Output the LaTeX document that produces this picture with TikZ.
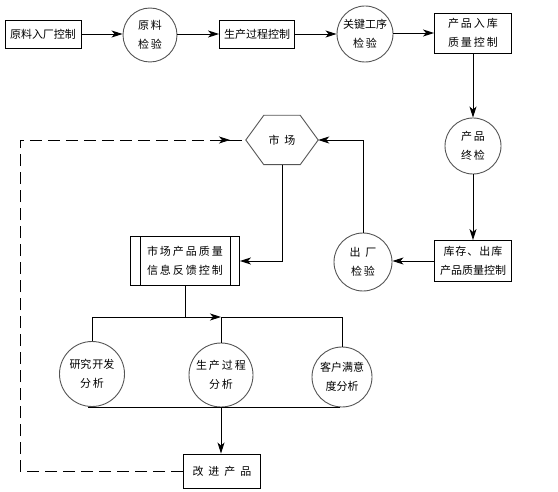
\documentclass[tikz,border=0pt]{standalone}
\usepackage{fontspec}
\newfontfamily\cjk{Noto Sans CJK SC}
\usetikzlibrary{arrows.meta,calc}
\definecolor{shapegray}{RGB}{85,85,85}
\newcommand{\sk}{\kern2pt}
\newcommand{\wk}{\kern5pt}
\begin{document}
\begin{tikzpicture}[x=1pt,y=-1pt,
  every node/.style={font=\cjk\fontsize{11}{19}\selectfont, align=center, inner sep=0pt},
  pbox/.style={draw=black, line width=0.9pt, rectangle},
  pcirc/.style={draw=shapegray, line width=0.9pt, circle},
  conn/.style={line width=0.9pt, draw=black},
  arr/.style={conn, -{Stealth[length=11pt,width=7pt,inset=3pt]}},
  dconn/.style={conn, dash pattern=on 12pt off 6pt}]
\useasboundingbox (0,0) rectangle (558,492);
% top row
\node[pbox, minimum width=76pt, minimum height=28pt] (b1) at (43,34) {原料入厂控制};
\node[pcirc, minimum size=54pt] (c1) at (150,35) {原\sk 料\\检\sk 验};
\node[pbox, minimum width=75pt, minimum height=28pt] (b2) at (257,34) {生产过程控制};
\node[pcirc, minimum size=56pt] (c2) at (365,34) {关键工序\\检\sk 验};
\node[pbox, minimum width=77pt, minimum height=40pt] (b3) at (473,33) {产\sk 品\sk 入\sk 库\\质\sk 量\sk 控\sk 制};
% right column
\node[pcirc, minimum size=56pt] (c3) at (473,146) {产\sk 品\\终\sk 检};
\node[pbox, minimum width=77pt, minimum height=41pt] (b4) at (473,261) {库\kern1pt 存\kern1pt 、\kern1pt 出\kern1pt 库\\产品质量控制};
\node[pcirc, minimum size=58pt] (c4) at (363,262) {出\wk 厂\\检\sk 验};
% market hexagon
\node[minimum width=72pt, minimum height=49pt] (hex) at (282,140) {市\wk 场};
\draw[shapegray, line width=0.9pt] (hex.west) -- ($(hex.north west)+(18,0)$) -- ($(hex.north east)+(-18,0)$) -- (hex.east) -- ($(hex.south east)+(-18,0)$) -- ($(hex.south west)+(18,0)$) -- cycle;
% feedback box (predefined process)
\node[pbox, minimum width=109pt, minimum height=49pt] (b5) at (185,261) {市\sk 场\sk 产\sk 品\sk 质\sk 量\\信\sk 息\sk 反\sk 馈\sk 控\sk 制};
\draw[conn] ($(b5.north west)+(10,0)$) -- ($(b5.south west)+(10,0)$);
\draw[conn] ($(b5.north east)+(-10,0)$) -- ($(b5.south east)+(-10,0)$);
% analysis circles
\node[pcirc, minimum size=65pt] (c5) at (92,374) {研究\kern1pt 开发\\分\sk 析};
\node[pcirc, minimum size=64pt] (c6) at (221,375) {生\sk 产\sk 过\sk 程\\分\sk 析};
\node[pcirc, minimum size=60pt] (c7) at (342,377) {客户满意\\度分析};
% improve box
\node[pbox, minimum width=77pt, minimum height=34pt] (b6) at (222,471) {改\wk 进\wk 产\wk 品};
% connectors top row
\draw[arr] (b1.east) -- (b1.east -| c1.west);
\draw[arr] (c1.east |- b2.west) -- (b2.west);
\draw[arr] (b2.east) -- (b2.east -| c2.west);
\draw[arr] (c2.east |- b3.west) -- (b3.west);
\draw[arr] (b3.south) -- (c3.north);
\draw[arr] (c3.south) -- (b4.north);
\draw[arr] (b4.west) -- (b4.west -| c4.east);
\draw[arr] (c4.north) |- (hex.east);
\draw[arr] (hex.south) |- (b5.east);
% distribution to analysis
\coordinate (jl) at (92,317);
\coordinate (jm) at (221,317);
\coordinate (jr) at (342,317);
\draw[conn] (b5.south) -- (b5.south |- jl);
\draw[arr] (c5.north) -- (jl) -- (jm);
\draw[conn] (jm) -- (jr) -- (c7.north);
\draw[conn] (c6.north) -- (jm);
% collection
\coordinate (kl) at (88,407);
\coordinate (kr) at (340,407);
\draw[conn] (kl) -- (kr);
\draw[arr] (c6.south) -- (c6.south |- b6.north);
% dashed feedback
\coordinate (d1) at (20,471);
\coordinate (d2) at (20,140);
\coordinate (d3) at (230,140);
\draw[dconn] (b6.west) -- (d1) -- (d2) -- (d3);
\draw[dconn, -{Stealth[length=11pt,width=7pt,inset=3pt]}] ($(d3)+(-14,0)$) -- (d3);
\draw[dconn] (d3) -- (hex.west);
\end{tikzpicture}
\end{document}
